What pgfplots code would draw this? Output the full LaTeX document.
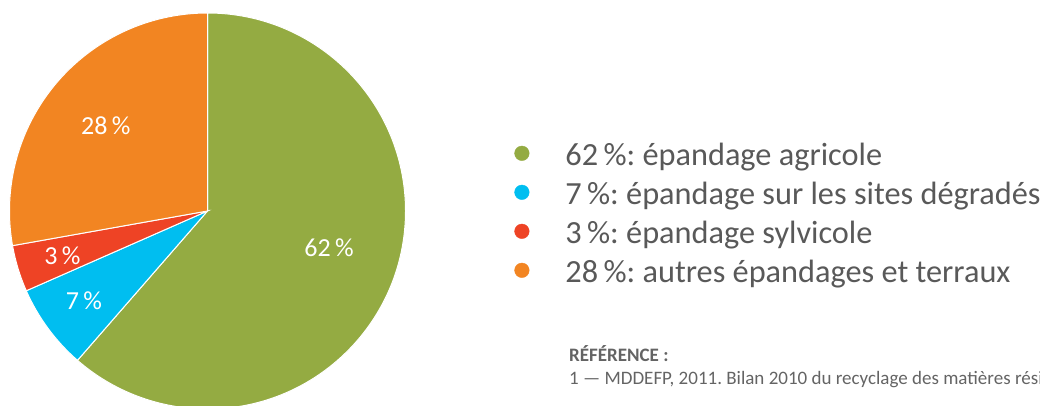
\documentclass[border=0pt]{standalone}
\usepackage{pgfplots}
\usepackage{pgfplotstable}
\usepackage{fontspec}
\setmainfont{Carlito}
\pgfplotsset{compat=1.18}
\definecolor{pgreen}{RGB}{148,171,66}
\definecolor{pblue}{RGB}{0,190,240}
\definecolor{pred}{RGB}{238,67,37}
\definecolor{porange}{RGB}{242,133,34}
\definecolor{tgray}{RGB}{89,89,89}
\definecolor{rgray}{RGB}{100,100,100}

\pgfplotstableread{
share
61.4
7.0
3.8
27.8
}\piedata

\pgfplotsset{circle legend/.style={legend image code/.code={\fill[##1] (0pt,2.5pt) circle (7.3pt);}}}

\begin{document}
\frenchspacing
\begin{tikzpicture}[x=1pt,y=1pt]
\useasboundingbox (0,0) rectangle (1040,406);
\clip (0,0) rectangle (1040,406);
\pgfplotstablegetelem{0}{share}\of\piedata\let\sA\pgfplotsretval
\pgfplotstablegetelem{1}{share}\of\piedata\let\sB\pgfplotsretval
\pgfplotstablegetelem{2}{share}\of\piedata\let\sC\pgfplotsretval
\pgfplotstablegetelem{3}{share}\of\piedata\let\sD\pgfplotsretval
\pgfmathsetmacro\aA{90}
\pgfmathsetmacro\aB{\aA-3.6*\sA}
\pgfmathsetmacro\aC{\aB-3.6*\sB}
\pgfmathsetmacro\aD{\aC-3.6*\sC}
\pgfmathsetmacro\aE{\aD-3.6*\sD}
\begin{axis}[x=1pt,y=1pt,xmin=0,xmax=1040,ymin=0,ymax=406,
  at={(0,0)},anchor=origin,hide axis,clip=false,enlargelimits=false,
  legend cell align=left,
  legend style={at={(axis cs:514.4,269.7)},anchor=north west,draw=none,fill=none,
    inner sep=0pt,outer sep=0pt,row sep=0pt,column sep=36pt,
    font=\fontsize{32.3}{32.3}\selectfont,
    nodes={inner sep=0pt,outer sep=0pt,text height=29.5pt,text depth=9.5pt,anchor=west,text=tgray}},
]
\fill[pgreen,draw=white,line width=1pt] (axis cs:207.5,195) -- ++(\aA:198pt) arc[start angle=\aA,end angle=\aB,radius=198pt] -- cycle;
\fill[pblue,draw=white,line width=1pt] (axis cs:207.5,195) -- ++(\aB:198pt) arc[start angle=\aB,end angle=\aC,radius=198pt] -- cycle;
\fill[pred,draw=white,line width=1pt] (axis cs:207.5,195) -- ++(\aC:198pt) arc[start angle=\aC,end angle=\aD,radius=198pt] -- cycle;
\fill[porange,draw=white,line width=1pt] (axis cs:207.5,195) -- ++(\aD:198pt) arc[start angle=\aD,end angle=\aE,radius=198pt] -- cycle;

\addlegendimage{circle legend,pgreen}
\addlegendentry{62\,\%: épandage agricole}
\addlegendimage{circle legend,pblue}
\addlegendentry{7\,\%: épandage sur les sites dégradés}
\addlegendimage{circle legend,pred}
\addlegendentry{3\,\%: épandage sylvicole}
\addlegendimage{circle legend,porange}
\addlegendentry{28\,\%: autres épandages et terraux}

\begin{scope}[every node/.style={text=white,font=\fontsize{26}{26}\selectfont,anchor=base,inner sep=0pt}]
\node at (axis cs:329,149.3) {62\,\%};
\node at (axis cs:105.8,271) {28\,\%};
\node at (axis cs:62.5,141) {3\,\%};
\node at (axis cs:83.8,96) {7\,\%};
\end{scope}

\node[anchor=base west,inner sep=0pt,text=rgray,font={\fontsize{19}{19}\selectfont\bfseries}] at (axis cs:569,44.5) {RÉFÉRENCE :};
\node[anchor=base west,inner sep=0pt,text=rgray,font=\fontsize{19}{19}\selectfont] at (axis cs:569,21.5) {1 — MDDEFP, 2011. Bilan 2010 du recyclage des matières résiduelles fertilisantes};
\end{axis}
\end{tikzpicture}
\end{document}
